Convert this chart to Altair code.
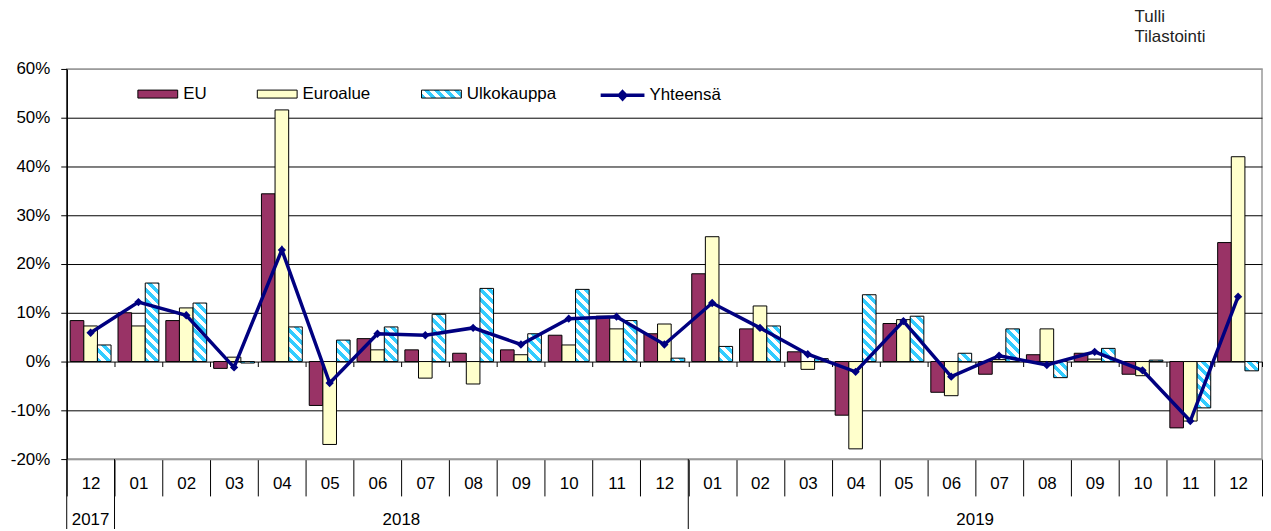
import json
import altair as alt

# ---------------- data ----------------
months = ["2017-12",
          "2018-01", "2018-02", "2018-03", "2018-04", "2018-05", "2018-06",
          "2018-07", "2018-08", "2018-09", "2018-10", "2018-11", "2018-12",
          "2019-01", "2019-02", "2019-03", "2019-04", "2019-05", "2019-06",
          "2019-07", "2019-08", "2019-09", "2019-10", "2019-11", "2019-12"]
eu = [8.4, 10.0, 8.4, -1.4, 34.4, -9.0, 4.7, 2.4, 1.7, 2.4, 5.4, 9.3, 5.7,
      18.0, 6.7, 2.0, -11.0, 7.8, -6.3, -2.6, 1.4, 1.7, -2.6, -13.6, 24.4]
euroalue = [7.3, 7.3, 11.0, 0.9, 51.6, -17.0, 2.4, -3.4, -4.6, 1.4, 3.4, 6.7, 7.7,
            25.6, 11.4, -1.6, -17.9, 8.6, -7.0, 0.4, 6.7, 0.5, -2.9, -12.2, 42.0]
ulkokauppa = [3.4, 16.1, 12.0, -0.3, 7.1, 4.4, 7.1, 9.7, 15.0, 5.7, 14.8, 8.4, 0.7,
              3.1, 7.3, 0.6, 13.7, 9.3, 1.7, 6.7, -3.3, 2.7, 0.3, -9.5, -1.9]
yhteensa = [5.9, 12.2, 9.5, -1.2, 22.9, -4.4, 5.7, 5.4, 6.9, 3.5, 8.8, 9.2, 3.5,
            12.0, 6.9, 1.5, -2.1, 8.3, -3.1, 1.2, -0.7, 2.0, -1.8, -12.2, 13.3]
series_names = ["EU", "Euroalue", "Ulkokauppa"]
line_name = "Yhteensä"
y_ticks = [-20, -10, 0, 10, 20, 30, 40, 50, 60]
credit = ["Tulli", "Tilastointi"]

# ---------------- styles ----------------
FONT = "Liberation Sans"
EU_COLOR = "#993366"
EURO_COLOR = "#FFFFCC"
CYAN = "#33CCFF"
NAVY = "#000080"
W, H = 1201, 392
Y_MIN, Y_MAX = -20, 60
PX = H / (Y_MAX - Y_MIN)
BAND = W / len(months)
PAD_OUT = 0.255
BAR_W = BAND / (3 + 2 * PAD_OUT)


def stripes(w, h, period=10.0):
    """Diagonal hatch as a hard-stop linear gradient in bounding-box units."""
    w = max(w, 0.5)
    h = max(h, 0.5)
    L = w + h
    half = period / 2.0
    stops, s, i = [], 0.0, 0
    while s < L - 1e-9:
        s1 = min(s + half, L)
        c = CYAN if i % 2 == 0 else "#FFFFFF"
        stops.append({"offset": round(s / L, 5), "color": c})
        stops.append({"offset": round(s1 / L, 5), "color": c})
        s, i = s1, i + 1
    k = (w + h) * w / (w * w + h * h)
    return {"gradient": "linear", "x1": 0, "y1": 1,
            "x2": round(k, 5), "y2": round(1 - k * h / w, 5), "stops": stops}


bar_records = []
for i, m in enumerate(months):
    for name, vals in zip(series_names, [eu, euroalue, ulkokauppa]):
        v = vals[i]
        if name == "EU":
            f = EU_COLOR
        elif name == "Euroalue":
            f = EURO_COLOR
        else:
            f = stripes(BAR_W, abs(v) * PX)
        bar_records.append({"m": m, "s": name, "v": v, "fill": f})

line_records = [{"m": m, "t": t, "series": line_name} for m, t in zip(months, yhteensa)]

# year labels & separators
year_rows, sep_rows = [], []
yrs = []
for m in months:
    if m[:4] not in yrs:
        yrs.append(m[:4])
for y in yrs:
    idx = [i for i, m in enumerate(months) if m[:4] == y]
    sep_rows.append({"m": months[idx[0]]})
    mid = (idx[0] + idx[-1]) / 2.0
    if mid == int(mid):
        year_rows.append({"m": months[int(mid)], "label": y, "bp": "c"})
    else:
        year_rows.append({"m": months[int(mid) + 1], "label": y, "bp": "s"})

legend_grad = json.dumps(stripes(40, 8))

# ---------------- chart ----------------
x_scale = alt.Scale(domain=months, paddingInner=0, paddingOuter=0)

month_axis = alt.Axis(title=None, orient="bottom", labelExpr="substring(datum.label, 5)",
                      labelAngle=0, labelFont=FONT, labelFontSize=17, labelColor="black",
                      labelPadding=-20, tickBand="extent", tickSize=37, tickColor="black",
                      tickWidth=1, domainColor="#999999", domainWidth=1.5, grid=False)

zero_axis = alt.Axis(title=None, orient="bottom", offset=-(Y_MIN * -PX), labels=False,
                     domain=False, ticks=True, tickBand="extent", tickSize=5,
                     tickColor="black", tickWidth=1, grid=False)

y_axis = alt.Axis(title=None, values=y_ticks, labelExpr="datum.value + '%'",
                  labelFont=FONT, labelFontSize=17, labelColor="black", labelPadding=11,
                  tickSize=6, tickColor="black", tickWidth=1, domainColor="black",
                  domainWidth=1.5, grid=True, gridWidth=1, gridOpacity=1,
                  gridColor={"condition": {"test": "datum.value == 60 || datum.value == -20",
                                           "value": "#999999"}, "value": "black"})

y_scale = alt.Scale(domain=[Y_MIN, Y_MAX], nice=False, zero=False)

bars = alt.Chart(alt.Data(values=bar_records)).mark_bar(stroke="black", strokeWidth=1).encode(
    x=alt.X("m:N", sort=months, scale=x_scale, axis=month_axis),
    xOffset=alt.XOffset("s:N", sort=series_names,
                        scale=alt.Scale(domain=series_names, paddingInner=0, paddingOuter=PAD_OUT)),
    y=alt.Y("v:Q", stack=None, scale=y_scale, axis=y_axis),
    fill=alt.Fill("fill:N", scale=None),
)

legend_layer = alt.Chart(alt.Data(values=[{"s": n} for n in series_names])).transform_filter(
    "false").mark_point(filled=True, opacity=1).encode(
    color=alt.Color("s:N", sort=series_names,
                    scale=alt.Scale(domain=series_names,
                                    range=[EU_COLOR, EURO_COLOR, alt.ExprRef(expr=legend_grad)]),
                    legend=alt.Legend(title=None, orient="none", legendX=71, legendY=4.5,
                                      direction="horizontal", symbolType="M-1,-0.2H1V0.2H-1Z",
                                      symbolSize=1600, symbolStrokeColor="black",
                                      symbolStrokeWidth=1, symbolOpacity=1,
                                      labelFont=FONT, labelFontSize=17, labelColor="black",
                                      labelOffset=5, columnPadding=48, padding=0))
)

line = alt.Chart(alt.Data(values=line_records)).mark_line(strokeWidth=3.5).encode(
    x=alt.X("m:N", sort=months, axis=zero_axis),
    y=alt.Y("t:Q", scale=y_scale, axis=y_axis),
    stroke=alt.Stroke("series:N", scale=alt.Scale(domain=[line_name], range=[NAVY]),
                      legend=alt.Legend(title=None, orient="none", legendX=534.5, legendY=2.5,
                                        symbolType="M-1,0H1M0,-0.16L0.15,0L0,0.16L-0.15,0Z",
                                        symbolSize=1936, symbolStrokeWidth=3.5,
                                        symbolFillColor=NAVY, symbolOpacity=1,
                                        labelFont=FONT, labelFontSize=17, labelColor="black",
                                        labelOffset=3, padding=0)),
)

points = alt.Chart(alt.Data(values=line_records)).mark_point(
    shape="diamond", filled=True, size=70, color=NAVY, opacity=1).encode(
    x=alt.X("m:N", sort=months, axis=None),
    y=alt.Y("t:Q", scale=y_scale, axis=y_axis),
)

year_base = alt.Chart(alt.Data(values=year_rows))
year_c = year_base.transform_filter("datum.bp == 'c'").mark_text(
    font=FONT, fontSize=17, baseline="alphabetic", color="black").encode(
    x=alt.X("m:N", sort=months, bandPosition=0.5, axis=None),
    y=alt.value(H + 66), text="label:N")
year_s = year_base.transform_filter("datum.bp == 's'").mark_text(
    font=FONT, fontSize=17, baseline="alphabetic", color="black").encode(
    x=alt.X("m:N", sort=months, bandPosition=0, axis=None),
    y=alt.value(H + 66), text="label:N")

seps = alt.Chart(alt.Data(values=sep_rows)).mark_rule(color="black", strokeWidth=1).encode(
    x=alt.X("m:N", sort=months, bandPosition=0, axis=None),
    y=alt.value(H), y2=alt.value(H + 72))

chart = alt.layer(bars, legend_layer, line, points, year_c, year_s, seps).resolve_axis(
    x="independent").properties(
    width=W, height=H,
    autosize=alt.AutoSizeParams(type="none"),
    padding={"left": 59, "top": 60, "right": 1, "bottom": 69},
    title=alt.TitleParams(text=credit, anchor="end", align="left", dx=-128, offset=14,
                          fontSize=17, font=FONT, fontWeight="normal", color="#222222",
                          lineHeight=20.5, frame="group"),
).configure(font=FONT).configure_view(stroke="#999999", strokeWidth=1.5)

chart.save("out.html", embed_options={"renderer": "svg", "actions": False})
